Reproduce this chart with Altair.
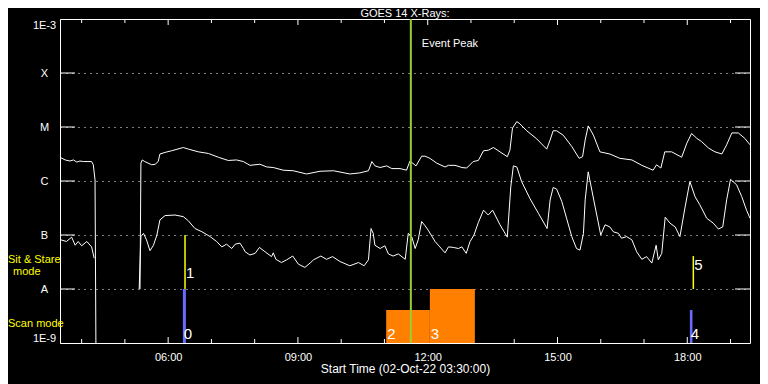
import altair as alt
import pandas as pd

FONT = "Liberation Sans"

# ---------------- data (time in decimal hours of 02-Oct-22, flux as log10 W/m^2) -------------
long1_hour = [3.50, 3.52, 3.62, 3.73, 3.81, 3.89, 3.96, 4.04, 4.23, 4.27, 4.31, 4.33]
long1_flux = [-5.57, -5.57, -5.61, -5.63, -5.61, -5.65, -5.63, -5.64, -5.64, -5.70, -5.98, -9.0]

long2_hour = [5.35, 5.37, 5.40, 5.46, 5.62, 5.70, 5.77, 5.81, 5.93, 6.08,
              6.35, 6.47, 6.70, 6.93, 7.16, 7.39, 7.58, 7.74, 7.89, 8.12,
              8.28, 8.43, 8.66, 8.89, 9.20, 9.51, 9.82, 10.20, 10.43, 10.63,
              10.71, 10.78, 10.90, 11.05, 11.17, 11.36, 11.51, 11.59, 11.73, 11.86,
              11.94, 12.05, 12.21, 12.40, 12.48, 12.63, 12.79, 12.90, 13.05, 13.17,
              13.29, 13.40, 13.52, 13.67, 13.84, 13.90, 13.96, 14.06, 14.13, 14.29,
              14.52, 14.75, 14.83, 14.90, 14.98, 15.13, 15.33, 15.50, 15.58, 15.64,
              15.71, 15.83, 15.98, 16.21, 16.44, 16.72, 16.95, 17.21, 17.29, 17.39,
              17.48, 17.64, 17.87, 17.99, 18.10, 18.22, 18.33, 18.49, 18.64, 18.80,
              18.91, 19.03, 19.18, 19.33, 19.45]
long2_flux = [-8.0, -5.67, -5.61, -5.64, -5.70, -5.69, -5.64, -5.50, -5.47, -5.44,
              -5.38, -5.41, -5.46, -5.49, -5.56, -5.62, -5.61, -5.64, -5.71, -5.69,
              -5.74, -5.75, -5.80, -5.81, -5.87, -5.82, -5.81, -5.87, -5.85, -5.81,
              -5.64, -5.72, -5.75, -5.72, -5.77, -5.77, -5.80, -5.63, -5.72, -5.54,
              -5.54, -5.58, -5.67, -5.74, -5.71, -5.71, -5.75, -5.76, -5.64, -5.62,
              -5.44, -5.43, -5.38, -5.46, -5.55, -5.43, -5.02, -4.90, -4.94, -5.07,
              -5.22, -5.41, -5.24, -5.07, -5.07, -5.15, -5.36, -5.58, -5.55, -5.24,
              -4.98, -5.15, -5.46, -5.50, -5.58, -5.61, -5.71, -5.80, -5.70, -5.76,
              -5.46, -5.46, -5.56, -5.30, -5.12, -5.21, -5.27, -5.39, -5.46, -5.50,
              -5.33, -5.11, -5.11, -5.21, -5.33]

short1_hour = [3.50, 3.52, 3.65, 3.77, 3.85, 3.92, 4.00, 4.12, 4.23, 4.29]
short1_flux = [-7.09, -7.09, -7.12, -7.04, -7.19, -7.12, -7.20, -7.12, -7.22, -7.43]

short2_hour = [5.33, 5.37, 5.43, 5.50, 5.58, 5.66, 5.74, 5.81, 5.93, 6.16,
               6.35, 6.47, 6.62, 6.78, 6.97, 7.12, 7.24, 7.35, 7.47, 7.55,
               7.66, 7.74, 7.78, 7.89, 8.01, 8.11, 8.24, 8.39, 8.43, 8.49,
               8.62, 8.74, 8.88, 9.01, 9.16, 9.28, 9.36, 9.53, 9.66, 9.80,
               9.97, 10.20, 10.40, 10.53, 10.63, 10.69, 10.74, 10.78, 10.90, 11.01,
               11.09, 11.20, 11.32, 11.48, 11.55, 11.63, 11.71, 11.78, 11.86, 11.94,
               12.01, 12.17, 12.28, 12.40, 12.48, 12.59, 12.71, 12.79, 12.89, 12.98,
               13.07, 13.17, 13.29, 13.40, 13.50, 13.67, 13.84, 13.92, 13.98, 14.06,
               14.17, 14.36, 14.56, 14.76, 14.83, 14.90, 14.98, 15.10, 15.21, 15.33,
               15.44, 15.52, 15.60, 15.64, 15.71, 15.87, 16.00, 16.10, 16.21, 16.29,
               16.41, 16.48, 16.60, 16.72, 16.83, 16.95, 17.06, 17.18, 17.28, 17.33,
               17.41, 17.49, 17.60, 17.72, 17.83, 17.95, 18.06, 18.18, 18.29, 18.45,
               18.60, 18.72, 18.82, 18.91, 19.00, 19.14, 19.26, 19.37, 19.45]
short2_flux = [-8.0, -7.03, -6.97, -7.09, -7.29, -7.19, -7.00, -6.72, -6.64, -6.63,
               -6.66, -6.74, -6.88, -6.94, -7.03, -7.12, -7.22, -7.17, -7.25, -7.17,
               -7.15, -7.25, -7.31, -7.37, -7.34, -7.23, -7.31, -7.40, -7.33, -7.45,
               -7.51, -7.46, -7.39, -7.54, -7.60, -7.52, -7.46, -7.39, -7.45, -7.40,
               -7.49, -7.57, -7.51, -7.57, -7.46, -6.88, -6.97, -7.19, -7.25, -7.20,
               -7.35, -7.39, -7.35, -7.45, -6.97, -7.03, -7.25, -7.09, -6.75, -6.83,
               -6.91, -7.12, -7.22, -7.33, -7.22, -7.23, -7.25, -7.22, -7.34, -7.12,
               -7.00, -6.77, -6.54, -6.63, -6.54, -6.81, -7.04, -6.11, -5.72, -5.74,
               -6.01, -6.32, -6.60, -6.88, -6.35, -6.12, -6.15, -6.38, -6.69, -7.03,
               -7.25, -7.28, -6.97, -6.35, -5.83, -6.48, -7.00, -6.81, -6.85, -6.94,
               -6.97, -7.06, -7.03, -7.09, -7.31, -7.45, -7.40, -7.52, -7.19, -7.46,
               -7.34, -6.67, -6.78, -6.85, -7.03, -6.48, -6.01, -6.29, -6.44, -6.69,
               -6.78, -6.89, -6.85, -6.35, -5.97, -6.07, -6.29, -6.54, -6.69]

# y axis levels and labels
level_values = [-9, -8, -7, -6, -5, -4, -3]
level_labels = ["1E-9", "A", "B", "C", "M", "X", "1E-3"]
class_levels = [-8, -7, -6, -5, -4]

# x axis ticks (hours)
major_hours = [6, 9, 12, 15, 18]
minor_hours = [4, 5, 7, 8, 10, 11, 13, 14, 16, 17, 19]
x_domain = [3.5, 19.45]

# event peak
peak_hour = 11.61

# scan mode blocks
scan_id = ["0", "2", "3", "4"]
scan_start = [6.34, 11.04, 12.05, 18.06]
scan_end = [6.41, 12.05, 13.09, 18.12]
scan_top = [-8.0, -8.39, -8.0, -8.39]
scan_kind = ["line", "block", "block", "line"]

# sit & stare markers
sit_id = ["1", "5"]
sit_hour = [6.39, 18.14]
sit_top = [-7.0, -7.39]
sit_label_level = [-7.80, -7.65]
scan_label_level = -8.93

# ---------------- tables ----------------
rows = []
for name, hs, fs in [("long1", long1_hour, long1_flux), ("long2", long2_hour, long2_flux),
                     ("short1", short1_hour, short1_flux), ("short2", short2_hour, short2_flux)]:
    for h, f in zip(hs, fs):
        rows.append({"hour": h, "flux": f, "seg": name})
curves = pd.DataFrame(rows)

scan_df = pd.DataFrame({"id": scan_id, "hour": scan_start, "hour_end": scan_end,
                        "flux": scan_top, "kind": scan_kind,
                        "lab": [scan_label_level] * len(scan_id),
                        "base": [-9.0] * len(scan_id)})
sit_df = pd.DataFrame({"id": sit_id, "hour": sit_hour, "flux": sit_top,
                       "lab": sit_label_level, "base": [-8.0] * len(sit_id)})

xs = alt.Scale(domain=x_domain, nice=False, zero=False)
ys = alt.Scale(domain=[-9, -3], nice=False, zero=False)

y_expr = ""
for v, lab in zip(level_values, level_labels):
    y_expr += f"datum.value == {v} ? '{lab}' : "
y_expr += "''"

x_axis = alt.Axis(values=major_hours,
                  labelExpr="(datum.value < 10 ? '0' : '') + datum.value + ':00'",
                  grid=False, ticks=False, domain=False, labelPadding=8,
                  labelFontSize=11, labelFont=FONT, labelColor="white",
                  title="Start Time (02-Oct-22 03:30:00)", titleFontSize=12,
                  titleFont=FONT, titleColor="white", titleFontWeight="normal",
                  titlePadding=1)
y_axis = alt.Axis(values=level_values, labelExpr=y_expr, grid=True,
                  gridDash=[1, 5], gridColor="white", gridOpacity=1, gridWidth=1,
                  ticks=False, domain=False, labelAlign="center", labelPadding=16,
                  labelFlush=True, labelFontSize=11, labelFont=FONT,
                  labelColor="white", title=None)


def X(field):
    return alt.X(field, type="quantitative", scale=xs, axis=x_axis)


def Y(field):
    return alt.Y(field, type="quantitative", scale=ys, axis=y_axis)


lines = alt.Chart(curves).mark_line(color="white", strokeWidth=1, clip=True).encode(
    x=X("hour"), y=Y("flux"), detail="seg:N", order=alt.Order("hour:Q"))

lvl_df = pd.DataFrame({"flux": class_levels})
left_ticks = alt.Chart(lvl_df).mark_rule(color="white", strokeWidth=1).encode(
    y=Y("flux"), x=alt.value(0), x2=alt.value(15))
right_ticks = alt.Chart(lvl_df).mark_rule(color="white", strokeWidth=1).encode(
    y=Y("flux"), x=alt.value(675), x2=alt.value(690))

maj_df = pd.DataFrame({"hour": major_hours})
min_df = pd.DataFrame({"hour": minor_hours})
H = 324
tick_layers = []
for df_, ln in [(maj_df, 6), (min_df, 4)]:
    tick_layers.append(alt.Chart(df_).mark_rule(color="white").encode(
        x=X("hour"), y=alt.value(H), y2=alt.value(H - ln)))
    tick_layers.append(alt.Chart(df_).mark_rule(color="white").encode(
        x=X("hour"), y=alt.value(0), y2=alt.value(ln)))

scan_rects = alt.Chart(scan_df).mark_rect().encode(
    x=X("hour"), x2="hour_end:Q", y=Y("flux"), y2="base:Q",
    color=alt.Color("kind:N", scale=alt.Scale(domain=["line", "block"],
                                              range=["#6a6aff", "#ff8000"]), legend=None),
)
scan_text = alt.Chart(scan_df).mark_text(align="left", baseline="alphabetic", dx=1,
                                         fontSize=15, font=FONT, color="white").encode(
    x=X("hour"), y=Y("lab"), text="id:N")

sit_rules = alt.Chart(sit_df).mark_rule(color="#ffff00", strokeWidth=1.5).encode(
    x=X("hour"), y=Y("flux"), y2="base:Q")
sit_text = alt.Chart(sit_df).mark_text(align="left", baseline="alphabetic", dx=1,
                                       fontSize=15, font=FONT, color="white").encode(
    x=X("hour"), y=Y("lab"), text="id:N")

peak_df = pd.DataFrame({"hour": [peak_hour], "flux": [-3.52], "t": ["Event Peak"]})
peak_rule = alt.Chart(peak_df).mark_rule(color="#9acd32", strokeWidth=2).encode(x=X("hour"))
peak_text = alt.Chart(peak_df).mark_text(align="left", baseline="alphabetic", dx=11,
                                         fontSize=11, font=FONT, color="white").encode(
    x=X("hour"), y=Y("flux"), text="t:N")

mode_layers = []
for txt, px, py, col, al, fs in [("Sit & Stare", -52, 244, "#ffff00", "left", 11),
                                 ("mode", -47, 256, "#ffff00", "left", 11),
                                 ("Scan mode", -52, 308, "#ffff00", "left", 11),
                                 ("GOES 14 X-Rays:", 345, -2, "white", "center", 11)]:
    mode_layers.append(alt.Chart(peak_df).mark_text(
        align=al, baseline="alphabetic", fontSize=fs, font=FONT, color=col,
        text=txt).encode(x=alt.value(px), y=alt.value(py)))

chart = alt.layer(
    lines, left_ticks, right_ticks, *tick_layers, scan_rects, scan_text,
    sit_rules, sit_text, peak_rule, peak_text, *mode_layers
).properties(
    width=690, height=324,
    autosize=alt.AutoSizeParams(type="none"),
    padding={"left": 52, "top": 11, "right": 10, "bottom": 41},
).configure(background="black").configure_view(stroke="white", strokeWidth=1, fill="black")

chart.save("out.html", embed_options={"renderer": "svg", "actions": False})
